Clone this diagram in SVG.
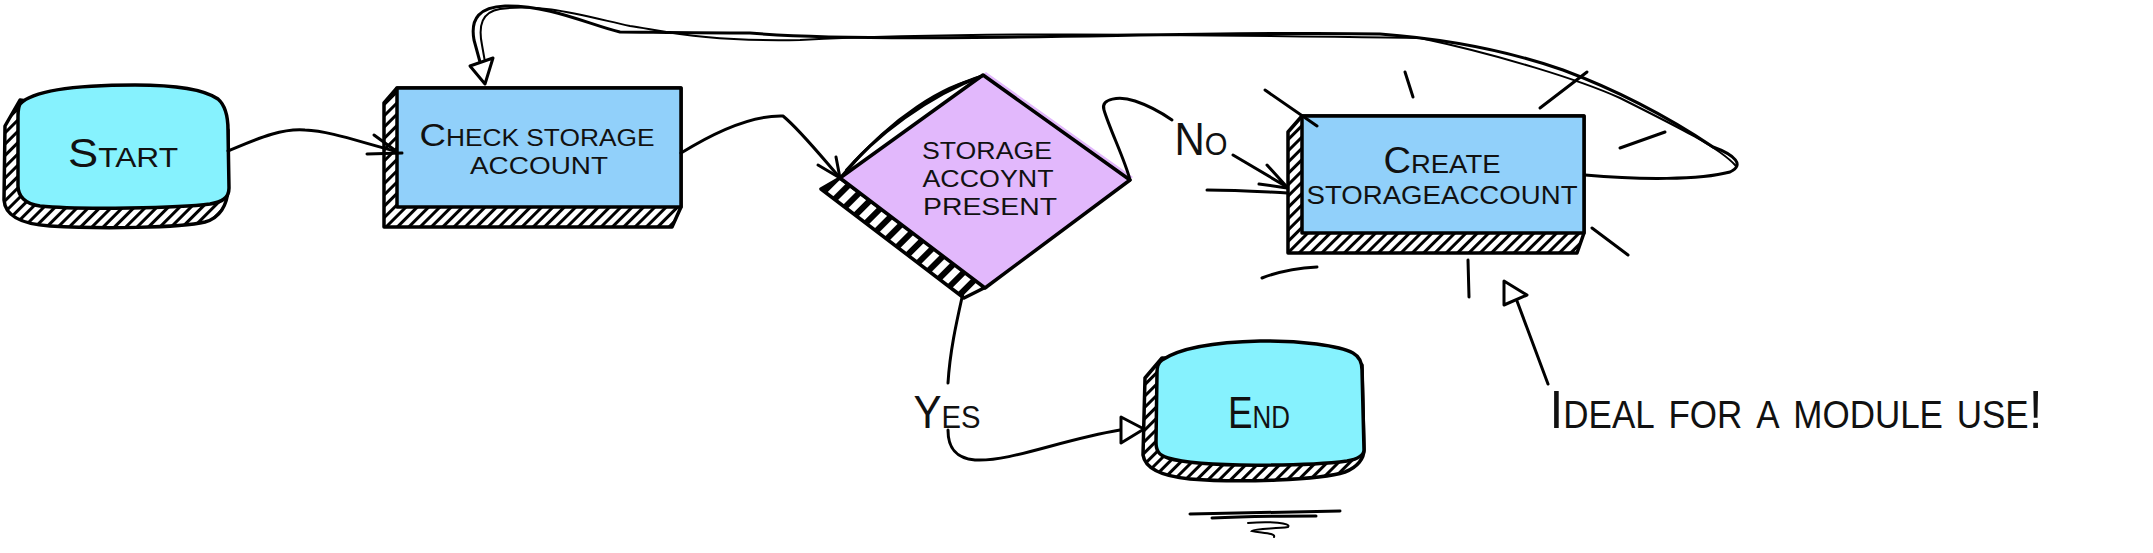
<svg xmlns="http://www.w3.org/2000/svg" width="2153" height="553" viewBox="0 0 2153 553">
<style>
.t{font-family:"Liberation Sans",Arial,sans-serif;font-variant:small-caps;fill:#111;text-anchor:middle}
.u{font-family:"Liberation Sans",Arial,sans-serif;text-transform:uppercase;fill:#111;text-anchor:middle}
.ln{fill:none;stroke:#000;stroke-width:3;stroke-linecap:round;stroke-linejoin:round}
.thin{fill:none;stroke:#000;stroke-width:2;stroke-linecap:round}
.ol{stroke:#000;stroke-width:3.5;stroke-linejoin:round}
.term{fill:#86F2FE}
.proc{fill:#91D0FA}
.dec{fill:#E2B8FC}
.sh{fill:url(#hatch);stroke:#000;stroke-width:3.5;stroke-linejoin:round}
.shd{fill:url(#hatchD);stroke:#000;stroke-width:3.5;stroke-linejoin:round}
.tri{fill:#fff;stroke:#000;stroke-width:3;stroke-linejoin:round}
</style>
<defs>
<pattern id="hatch" patternUnits="userSpaceOnUse" width="8" height="8" patternTransform="rotate(45)"><rect width="8" height="8" fill="#fff"/><rect width="3" height="8" fill="#000"/></pattern>
<pattern id="hatchD" patternUnits="userSpaceOnUse" width="13" height="13" patternTransform="rotate(45)"><rect width="13" height="13" fill="#fff"/><rect width="6" height="13" fill="#000"/></pattern>
</defs>
<rect width="2153" height="553" fill="#fff"/>

<g id="node-start">
<path class="sh" d="M 20,100 L 5,126 L 4,200 C 5,215 20,224 50,226 C 100,229 180,228 205,222 C 220,218 227,205 228,190 L 228,130 Z"/>
<path class="term ol" d="M 20,104 C 35,88 90,85 135,85 C 175,85 205,90 218,99 C 226,106 228,118 228,130 L 229,188 C 229,198 222,202 210,204 C 180,208 80,210 40,206 C 25,204 18,196 18,186 L 18,116 C 18,110 19,106 20,104 Z"/>
<text class="t" x="123" y="167" font-size="40" textLength="110" lengthAdjust="spacingAndGlyphs">Start</text>
</g>

<g id="node-check">
<polygon class="sh" points="397,88 384,103 384,227 672,227 681,207 681,88"/>
<rect class="proc ol" x="397" y="88" width="284" height="119"/>
<text class="u" x="537" y="146" font-size="23" textLength="235" lengthAdjust="spacingAndGlyphs"><tspan font-size="32">C</tspan>heck storage</text>
<text class="u" x="539" y="174" font-size="23" textLength="138" lengthAdjust="spacingAndGlyphs">account</text>
</g>

<g id="node-decision">
<polygon class="shd" points="840,178 821,189 964,298 986,287"/>
<polygon class="dec" points="986,72 1133,177 988,285 843,175"/>
<polygon class="dec ol" points="983,75 1130,180 985,288 840,178"/>
<path class="ln" d="M 842,176 C 875,135 930,95 982,76"/>
<path class="thin" d="M 846,170 C 885,125 940,88 984,75"/>
<path class="thin" d="M 850,168 C 890,118 945,84 980,78"/>
<text class="u" x="987" y="159" font-size="24" textLength="130" lengthAdjust="spacingAndGlyphs">storage</text>
<text class="u" x="988" y="187" font-size="24" textLength="131" lengthAdjust="spacingAndGlyphs">accoynt</text>
<text class="u" x="990" y="215" font-size="24" textLength="134" lengthAdjust="spacingAndGlyphs">present</text>
</g>

<g id="node-create">
<polygon class="sh" points="1302,116 1288,132 1288,253 1577,253 1584,233 1584,116"/>
<rect class="proc ol" x="1302" y="116" width="282" height="117"/>
<text class="u" x="1442" y="173" font-size="26" textLength="117" lengthAdjust="spacingAndGlyphs"><tspan font-size="36">C</tspan>reate</text>
<text class="u" x="1442" y="204" font-size="25" textLength="271" lengthAdjust="spacingAndGlyphs">storageaccount</text>
</g>

<g id="create-emphasis">
<path class="ln" d="M 1265,90 L 1317,126"/>
<path class="ln" d="M 1405,72 L 1413,97"/>
<path class="ln" d="M 1540,108 L 1587,72"/>
<path class="ln" d="M 1620,148 L 1665,132"/>
<path class="ln" d="M 1592,228 L 1628,255"/>
<path class="ln" stroke-width="4" d="M 1262,278 C 1280,271 1300,268 1317,267"/>
<path class="ln" d="M 1468,260 L 1469,297"/>
</g>

<g id="node-end">
<path class="sh" d="M 1162,358 L 1145,378 L 1143,455 C 1145,468 1160,476 1190,479 C 1240,483 1320,480 1345,472 C 1358,467 1364,458 1364,450 L 1362,365 Z"/>
<path class="term ol" d="M 1162,360 C 1180,348 1215,342 1260,341 C 1300,340 1340,346 1353,353 C 1360,357 1362,363 1362,370 L 1364,450 C 1364,456 1358,459 1347,461 C 1310,466 1200,468 1168,458 C 1158,455 1156,450 1156,442 L 1157,372 C 1157,366 1159,362 1162,360 Z"/>
<text class="t" x="1259" y="428" font-size="44" textLength="62" lengthAdjust="spacingAndGlyphs">End</text>
</g>

<g id="end-squiggle">
<path class="ln" d="M 1190,514 L 1340,511"/>
<path class="ln" stroke-width="5" d="M 1212,518 C 1250,516 1290,516 1316,516"/>
<path class="thin" stroke-width="2.5" d="M 1248,523 C 1270,521 1292,523 1288,527 C 1275,529 1255,528 1252,531 C 1262,533 1276,533 1274,537"/>
</g>

<g id="connectors">
<path class="ln" d="M 228,151 C 255,140 280,128 305,130 C 330,131 360,142 395,151"/>
<path class="ln" d="M 374,135 L 396,151 M 367,154 L 402,153"/>

<path class="ln" d="M 681,153 C 710,135 750,115 783,116 C 800,130 820,155 840,178"/>
<path class="ln" d="M 818,165 L 840,178 M 836,157 L 840,178"/>

<path class="ln" d="M 1130,180 C 1125,160 1110,130 1104,110 C 1100,98 1120,96 1135,101 C 1150,106 1162,113 1172,120"/>
<path class="ln" d="M 1233,155 L 1287,187 M 1267,165 L 1287,187"/>
<path class="ln" stroke-width="4" d="M 1259,184 L 1287,188"/>
<path class="ln" d="M 1207,190 C 1240,190 1265,192 1287,193"/>
<text class="t" x="1201" y="155" font-size="46" textLength="53" lengthAdjust="spacingAndGlyphs">No</text>

<path class="ln" d="M 963,293 C 957,320 950,350 948,383"/>
<path class="ln" d="M 948,430 C 948,445 953,458 975,460 C 1010,462 1060,440 1120,430"/>
<polygon class="tri" points="1121,417 1144,429 1121,443"/>
<text class="t" x="947" y="428" font-size="46" textLength="67" lengthAdjust="spacingAndGlyphs">Yes</text>

<path class="ln" d="M 1585,175 C 1640,180 1700,180 1730,172 C 1745,165 1735,155 1713,147 C 1680,125 1630,95 1563,70 C 1520,55 1460,40 1380,34 C 1200,30 900,45 750,33 C 690,33 640,32 620,32 C 590,25 550,5 505,6 C 480,7 470,18 474,40 L 480,62"/>
<path class="thin" d="M 1736,166 C 1720,148 1680,128 1620,98 C 1580,80 1500,55 1420,38 C 1250,36 1000,30 800,40 C 700,42 660,30 630,26 C 580,15 540,3 500,9 C 482,12 478,25 482,45 L 485,62"/>
<polygon class="tri" points="470,66 493,58 485,84"/>

<path class="ln" d="M 1548,384 L 1517,301"/>
<polygon class="tri" points="1504,281 1527,295 1504,305"/>
<text class="t" x="1796" y="428" font-size="54" textLength="493" lengthAdjust="spacingAndGlyphs">Ideal for a module use!</text>
</g>
</svg>
